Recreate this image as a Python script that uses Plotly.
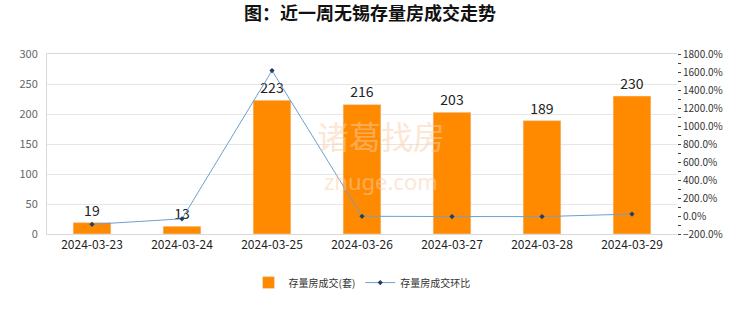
import plotly.graph_objects as go

dates = ["2024-03-23", "2024-03-24", "2024-03-25", "2024-03-26", "2024-03-27", "2024-03-28", "2024-03-29"]
volume = [19, 13, 223, 216, 203, 189, 230]
change_pct = [-93.0, -31.6, 1615.4, -3.1, -6.0, -6.9, 21.7]

fig = go.Figure()
fig.add_trace(go.Bar(
    x=dates, y=volume, name="存量房成交(套)",
    marker_color="#FF8A00", width=0.42,
    text=[str(v) for v in volume], textposition="outside",
    textfont=dict(size=14, color="#222222"), cliponaxis=False,
))
fig.add_trace(go.Scatter(
    x=dates, y=change_pct, name="存量房成交环比", yaxis="y2",
    mode="lines+markers",
    line=dict(color="#6F9FD0", width=1),
    marker=dict(symbol="diamond", size=4, color="#1F3E66"),
))

fig.add_annotation(text="诸葛找房", x=0.53, y=0.55, xref="paper", yref="paper",
                   showarrow=False, font=dict(size=32, color="rgba(250,205,170,0.5)", family="Noto Sans CJK SC"))
fig.add_annotation(text="zhuge.com", x=0.53, y=0.2, xref="paper", yref="paper",
                   showarrow=False, font=dict(size=22, color="rgba(250,205,170,0.5)", family="Noto Sans"))

fig.update_layout(
    width=740, height=312,
    margin=dict(l=47, r=63, t=54, b=78),
    paper_bgcolor="white", plot_bgcolor="white",
    title=dict(text="<b>图：近一周无锡存量房成交走势</b>", x=0.5, xanchor="center", y=0.955, yanchor="middle",
               font=dict(size=18, color="#111111", family="Noto Sans CJK SC")),
    font=dict(family="Noto Sans CJK SC", size=11, color="#555555"),
    showlegend=True,
    legend=dict(orientation="h", x=0.5, xanchor="center", y=-0.27, yanchor="middle",
                font=dict(size=10, color="#333333"), itemwidth=30),
    xaxis=dict(type="category", showline=True, linecolor="#D9D9D9", ticks="",
               tickfont=dict(size=12, color="#222222"), mirror=True),
    yaxis=dict(range=[0, 300], dtick=50, showgrid=True, gridcolor="#E6E6E6", showline=True,
               linecolor="#D9D9D9", tickfont=dict(size=11, color="#666666"), zeroline=False,
               ticklabelstandoff=6),
    yaxis2=dict(range=[-200, 1800], dtick=200, overlaying="y", side="right", showgrid=False,
                tickformat=".1f", ticksuffix="%", ticks="outside", ticklen=3, tickcolor="#444444",
                tickfont=dict(size=10, color="#333333"), zeroline=False, showline=False,
                minor=dict(ticks="outside", ticklen=3, dtick=100, tickcolor="#444444")),
)

fig.write_html("out.html")
